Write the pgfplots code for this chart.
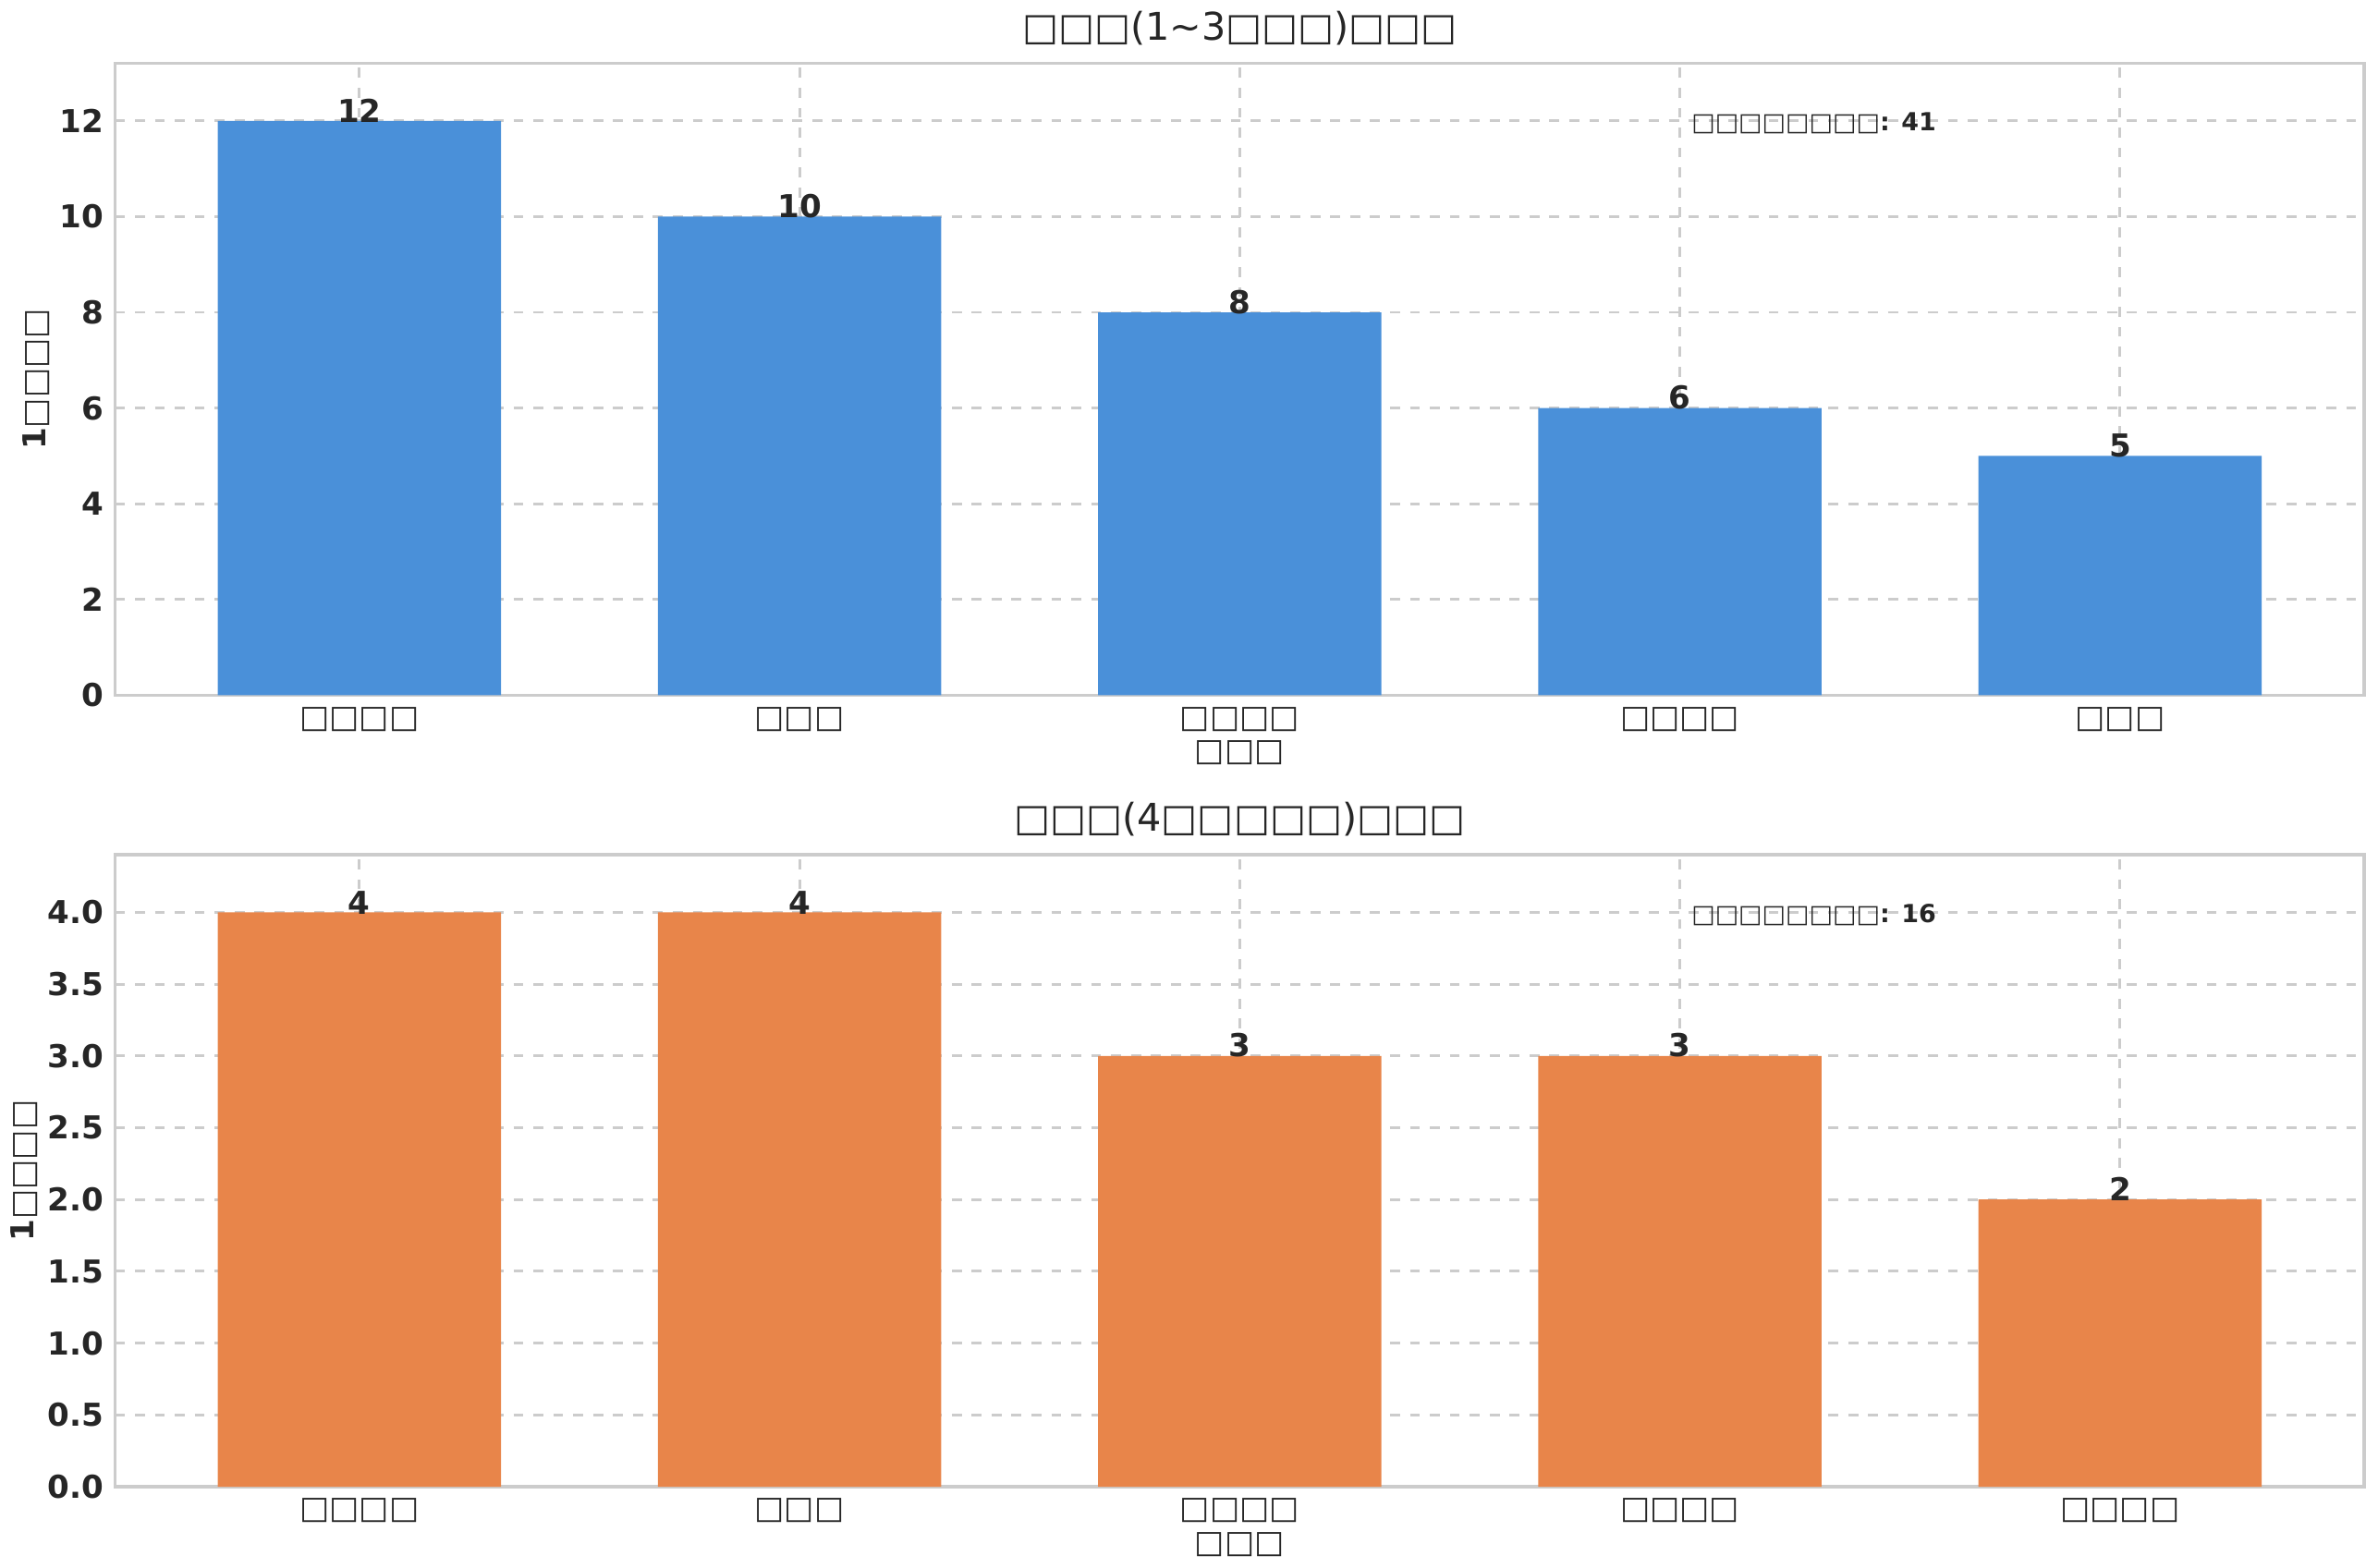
\documentclass[border=0pt]{standalone}
\usepackage{pgfplots}
\pgfplotsset{compat=1.18}
\usepackage{fontspec}
\setmainfont{DejaVu Sans}
\definecolor{cblue}{HTML}{4A90D9}
\definecolor{corange}{HTML}{E8854A}
\definecolor{cgrid}{HTML}{CCCCCC}
\definecolor{ctext}{HTML}{262626}
\pgfplotsset{mystyle/.style={
  scale only axis, width=23.81cm, height=6.69cm,
  xmin=-0.555, xmax=4.555, ymin=0,
  xtick={0,1,2,3,4}, major tick length=0pt,
  axis line style={cgrid, line width=1pt},
  grid=major, grid style={cgrid, dashed, line width=0.8pt},
  ybar, bar width=3.0cm,
  /pgf/number format/assume math mode=true,
  tick label style={font=\fontsize{9.5}{11}\selectfont\bfseries, text=ctext},
  xticklabel style={font=\fontsize{9.5}{11}\selectfont, text=ctext},
  ylabel style={font=\fontsize{9.5}{11}\selectfont\bfseries, text=ctext, yshift=-4pt},
  xlabel style={font=\fontsize{9.5}{11}\selectfont, text=ctext, yshift=4pt},
  title style={font=\fontsize{11.5}{13}\selectfont, text=ctext, yshift=-4pt},
  nodes near coords, every node near coord/.append style={font=\fontsize{9.5}{11}\selectfont\bfseries, text=ctext, yshift=-4pt},
  ylabel={1□□□□}, xlabel={□□□},
}}
\begin{document}
\begin{tikzpicture}
\begin{axis}[mystyle, ymax=13.2, ytick={0,2,...,12},
  title={□□□(1\textasciitilde3□□□)□□□},
  xticklabels={□□□□,□□□,□□□□,□□□□,□□□}]
\addplot[fill=cblue, draw=none] coordinates {(0,12) (1,10) (2,8) (3,6) (4,5)};
\node[anchor=west, font=\fontsize{7.5}{9}\selectfont\bfseries, text=ctext] at (axis cs:3.0,11.95) {□□□□□□□□: 41};
\end{axis}
\begin{axis}[mystyle, yshift=-8.38cm, ymax=4.4, ytick={0,0.5,...,4},
  yticklabel style={/pgf/number format/.cd, fixed, fixed zerofill, precision=1},
  title={□□□(4□□□□□)□□□},
  xticklabels={□□□□,□□□,□□□□,□□□□,□□□□}]
\addplot[fill=corange, draw=none] coordinates {(0,4) (1,4) (2,3) (3,3) (4,2)};
\node[anchor=west, font=\fontsize{7.5}{9}\selectfont\bfseries, text=ctext] at (axis cs:3.0,3.98) {□□□□□□□□: 16};
\end{axis}
\end{tikzpicture}
\end{document}
